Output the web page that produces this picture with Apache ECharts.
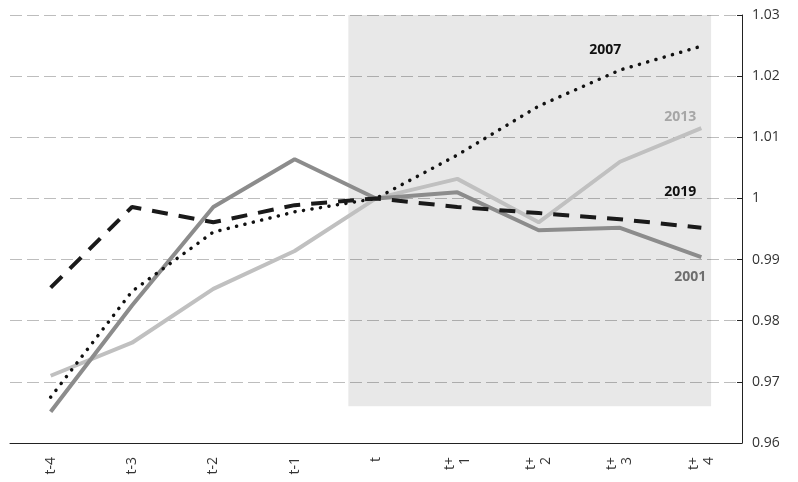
<!DOCTYPE html>
<html>
<head>
<meta charset="utf-8">
<script src="https://cdn.jsdelivr.net/npm/echarts@6/dist/echarts.min.js"></script>
<style>
  html, body { margin: 0; padding: 0; background: #fff; }
  #chart { width: 798px; height: 482px; }
</style>
</head>
<body>
<div id="chart"></div>
<script>
// periods around the reference point t
var periods = ["t-4", "t-3", "t-2", "t-1", "t", "t+\n1", "t+\n2", "t+\n3", "t+\n4"];

var y2001 = [0.9651, 0.9825, 0.9986, 1.0064, 1.0, 1.0010, 0.9948, 0.9952, 0.9904];
var y2007 = [0.9675, 0.9848, 0.9945, 0.9978, 1.0, 1.0071, 1.0151, 1.0210, 1.0249];
var y2013 = [0.9710, 0.9764, 0.9852, 0.9914, 1.0, 1.0032, 0.9961, 1.0060, 1.0115];
var y2019 = [0.9854, 0.9986, 0.9961, 0.9989, 1.0, 0.9986, 0.9976, 0.9966, 0.9952];

var fontFamily = "Open Sans";

var chart = echarts.init(document.getElementById("chart"));

function endLabel(text, color, offset) {
  return {
    show: true,
    formatter: text,
    color: color,
    fontFamily: fontFamily,
    fontWeight: "bold",
    fontSize: 14,
    distance: 0,
    align: "right",
    verticalAlign: "middle",
    offset: offset,
  };
}

var option = {
  animation: false,
  grid: {
    left: 10,
    right: 56,
    top: 15,
    bottom: 39,
  },
  xAxis: [
    {
      type: "category",
      data: periods,
      boundaryGap: true,
      axisLine: { onZero: false, lineStyle: { color: "#222", width: 1 } },
      axisTick: { inside: true, length: 7, lineStyle: { color: "#222" } },
      axisLabel: {
        rotate: 90,
        margin: 14,
        color: "#333",
        fontSize: 14,
        fontFamily: fontFamily,
        lineHeight: 15,
      },
      splitLine: { show: false },
    },
    {
      // hidden helper axis, only used to place the shaded window
      type: "value",
      min: -0.5,
      max: 8.5,
      show: false,
    },
  ],
  yAxis: {
    type: "value",
    position: "right",
    min: 0.96,
    max: 1.03,
    interval: 0.01,
    axisLine: { show: true, onZero: false, lineStyle: { color: "#222", width: 1 } },
    axisTick: { show: true, inside: true, length: 5, lineStyle: { color: "#222" } },
    axisLabel: {
      margin: 10,
      color: "#333",
      fontSize: 14,
      fontFamily: fontFamily,
      formatter: function (v) {
        return +v.toFixed(2) + "";
      },
    },
    splitLine: {
      show: true,
      lineStyle: { color: "#bdbdbd", width: 1, type: [12, 5] },
    },
  },
  series: [
    {
      name: "window",
      type: "line",
      xAxisIndex: 1,
      data: [],
      silent: true,
      markArea: {
        silent: true,
        itemStyle: { color: "rgba(0,0,0,0.09)" },
        data: [[{ xAxis: 3.66, yAxis: 0.966 }, { xAxis: 8.12, yAxis: 1.03 }]],
      },
    },
    {
      name: "2013",
      type: "line",
      data: y2013,
      symbol: "none",
      lineStyle: { color: "#c0c0c0", width: 4 },
      endLabel: endLabel("2013", "#a6a6a6", [-5, -11]),
    },
    {
      name: "2001",
      type: "line",
      data: y2001,
      symbol: "none",
      lineStyle: { color: "#8c8c8c", width: 4 },
      endLabel: endLabel("2001", "#6e6e6e", [5, 20]),
    },
    {
      name: "2007",
      type: "line",
      data: y2007,
      symbol: "none",
      lineStyle: { color: "#111", width: 3.5, type: [0.1, 8.5], cap: "round" },
      endLabel: endLabel("2007", "#111", [-80, 4]),
    },
    {
      name: "2019",
      type: "line",
      data: y2019,
      symbol: "none",
      lineStyle: { color: "#1a1a1a", width: 4, type: [16, 11], cap: "butt" },
      endLabel: endLabel("2019", "#111", [-5, -36]),
    },
  ],
};

chart.setOption(option);
window.addEventListener("resize", function () {
  chart.resize();
});
</script>
</body>
</html>
